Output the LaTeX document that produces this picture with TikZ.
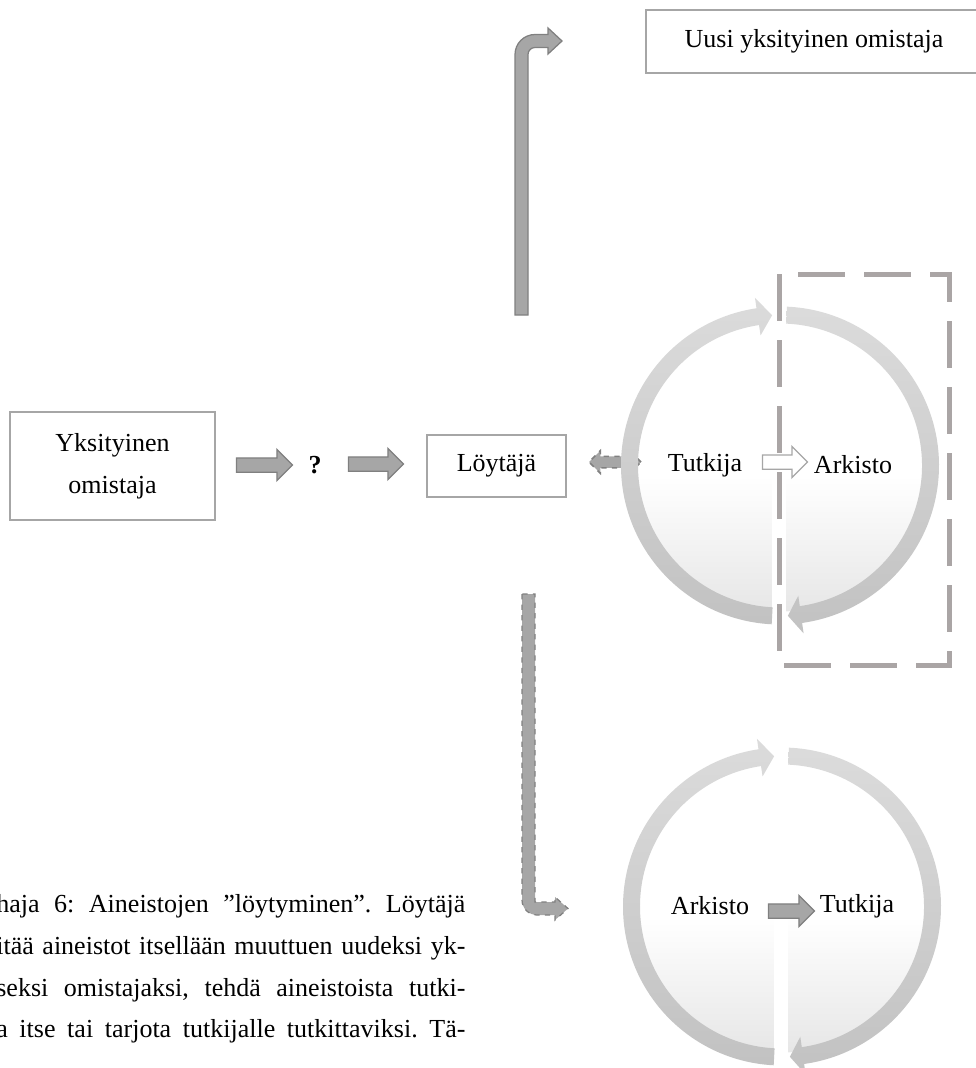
\documentclass[tikz,border=0pt]{standalone}
\usepackage{fontspec}
\setmainfont{Liberation Serif}
\usetikzlibrary{shapes.arrows,calc}
\definecolor{boxgray}{RGB}{166,166,166}
\definecolor{arrowfill}{RGB}{166,166,166}
\definecolor{arrowline}{RGB}{128,128,128}
\definecolor{dashgray}{RGB}{170,165,165}
\begin{document}
\frenchspacing
\begin{tikzpicture}[x=0.2mm, y=-0.2mm,
	font=\fontsize{14.8}{23.8}\selectfont,
	box/.style={draw=boxgray, line width=0.3mm, fill=white, inner sep=0pt, align=center},
	blockarrow/.style={single arrow, draw=arrowline, fill=arrowfill, line width=0.25mm, inner xsep=0pt, inner ysep=1.3mm,
		minimum width=6mm, single arrow head extend=1.7mm, minimum height=11.2mm},
	twoway/.style={double arrow, draw=arrowline, fill=arrowfill, line width=0.3mm, dashed, inner xsep=0pt, inner ysep=1mm,
		minimum width=4.2mm, double arrow head extend=1.1mm, minimum height=10.4mm},
	ring/.style={top color=gray!28, bottom color=gray!48},
	bent/.style={draw=arrowline, fill=arrowfill, line width=0.25mm}]
	    \useasboundingbox (0,0) rectangle (976,1068);
	    
	    \node[box, minimum width=41mm, minimum height=21.6mm] (owner) at (112.5,466) {Yksityinen\\omistaja};
	    \node[blockarrow] (arr1) at (261,465) {};
	    \node[font=\fontsize{14.8}{23.8}\selectfont\bfseries] (ask) at (315,465) {?};
	    \node[blockarrow, minimum height=11mm] (arr2) at (372.5,464) {};
	    \node[box, minimum width=27.8mm, minimum height=12.4mm] (finder) at (496.5,466) {Löytäjä};
	    \node[twoway] (swap) at (615,462) {};
	    \node[box, minimum width=67.2mm, minimum height=12.6mm] (newowner) at (814,41.5) {Uusi yksityinen omistaja};
	    
	    % up to the new owner
	    \draw[bent] (515,315) -- (515,54.5) arc[start angle=180, end angle=270, radius=20] -- (548,34.5) -- (548,28)
	        -- (562,41) -- (548,54) -- (548,47.5) -- (535,47.5) arc[start angle=270, end angle=180, radius=7] -- (528,315) -- cycle;
	    % down to the archive
	    \draw[bent, dashed] (522,594) -- (522,900) arc[start angle=180, end angle=90, radius=15] -- (555,915) -- (555,920)
	        -- (568,908.5) -- (555,897) -- (555,902) -- (535,902) -- (535,594) -- cycle;
	    
	    \foreach \cx/\cy in {780/465.5, 782/906.5} {
	        \coordinate (c) at (\cx,\cy);
	        \shade[top color=white, bottom color=gray!20] ($(c)+(4:146)$) arc[start angle=4, end angle=176, radius=146] -- cycle;
	        \fill[white] ($(c)+(-8,10)$) rectangle ($(c)+(6,165)$);
	        \shade[ring] ($(c)+(93:159)$) arc[start angle=93, end angle=261.5, radius=159] -- ($(c)+(261.5:169.5)$)
	            -- ($(c)+(267:150.5)$) -- ($(c)+(261.5:131.5)$) -- ($(c)+(261.5:142)$) arc[start angle=261.5, end angle=93, radius=142] -- cycle;
	        \shade[ring] ($(c)+(272.5:159)$) arc[start angle=272.5, end angle=442, radius=159] -- ($(c)+(442:169.5)$)
	            -- ($(c)+(447:150.5)$) -- ($(c)+(442:131.5)$) -- ($(c)+(442:142)$) arc[start angle=442, end angle=272.5, radius=142] -- cycle;
	    }
	    
	    \node (res1) at (705,465) {Tutkija};
	    \node[blockarrow, fill=white, draw=arrowfill, minimum height=9mm] (pass1) at (781.5,462) {};
	    \node (arch1) at (853,465) {Arkisto};
	    \node (arch2) at (710,906) {Arkisto};
	    \node[blockarrow, minimum height=9.2mm] (pass2) at (788,911) {};
	    \node (res2) at (857,906) {Tutkija};
	    
	    \draw[dashgray, line width=1mm, dash pattern=on 9.4mm off 3.8mm] (779,274) rectangle (949,665);
	    
	    \node[anchor=north west, inner sep=0pt, align=left] (caption) at (-4,894)
	        {\makebox[93.8mm][s]{haja 6: Aineistojen ”löytyminen”. Löytäjä}\\
	         \makebox[93.8mm][s]{itää aineistot itsellään muuttuen uudeksi yk-}\\
	         \makebox[93.8mm][s]{seksi omistajaksi, tehdä aineistoista tutki-}\\
	         \makebox[93.8mm][s]{a itse tai tarjota tutkijalle tutkittaviksi. Tä-}};
\end{tikzpicture}
\end{document}
